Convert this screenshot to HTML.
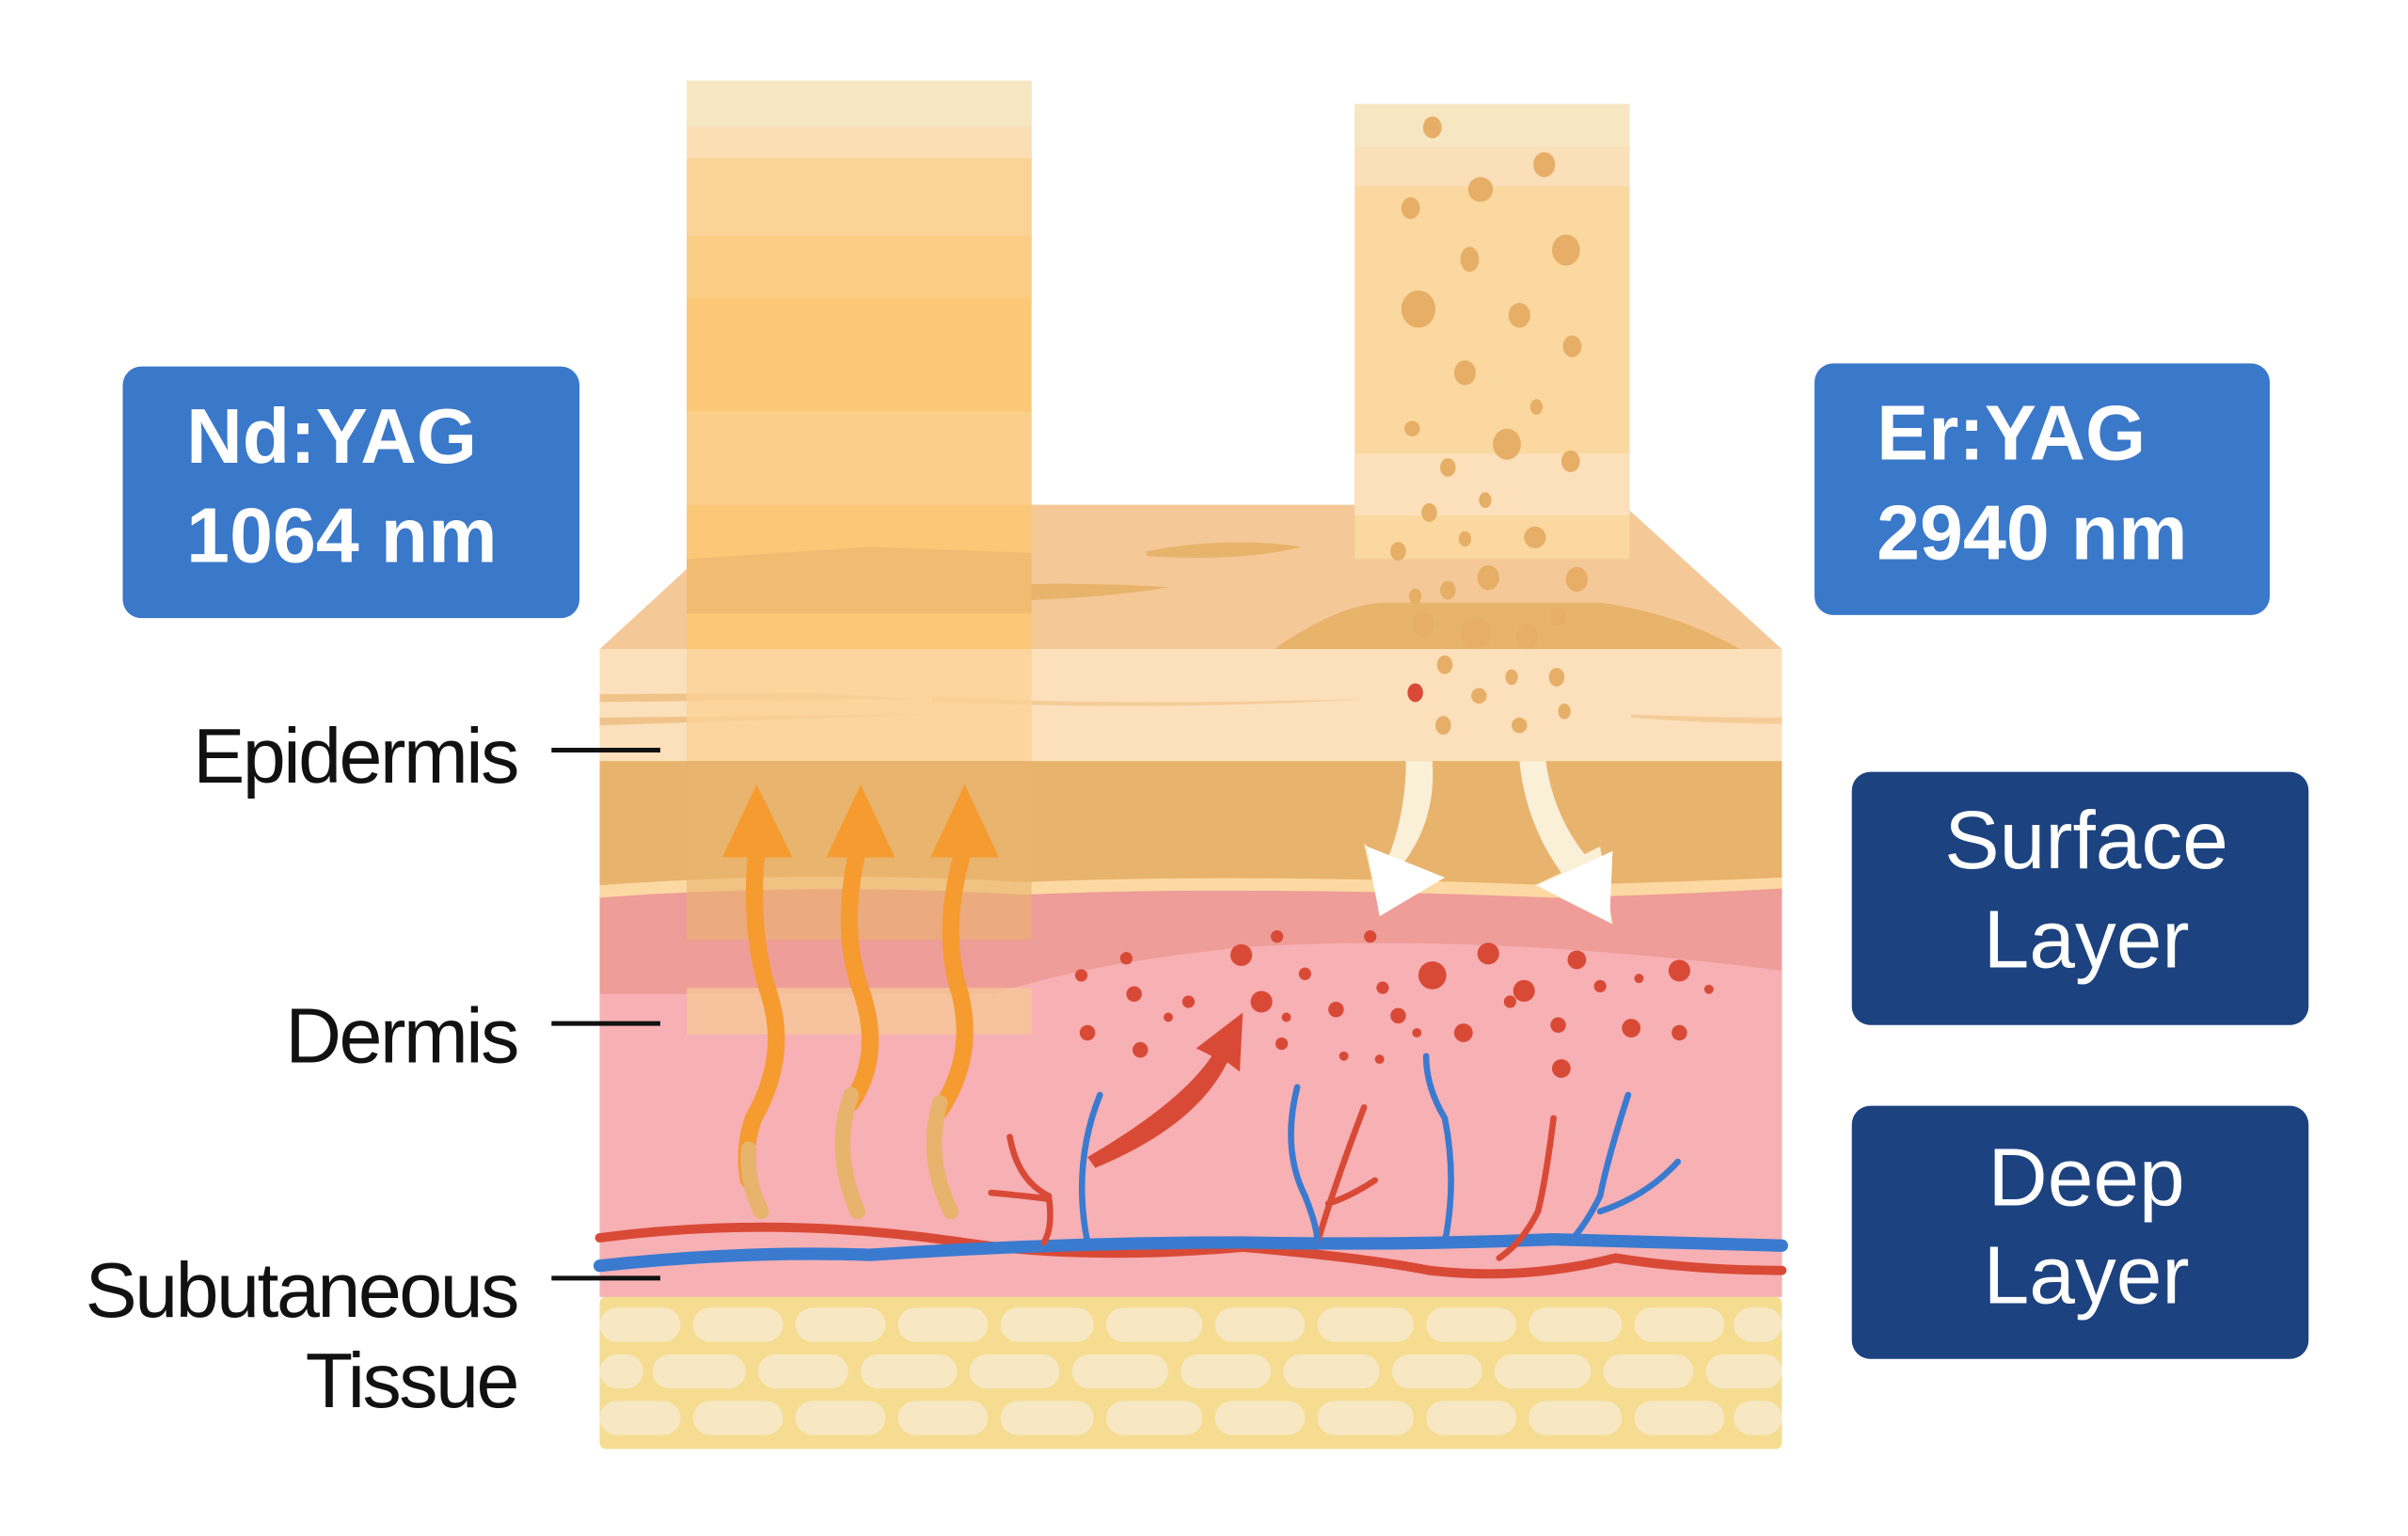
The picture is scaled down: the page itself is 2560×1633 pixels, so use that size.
<!DOCTYPE html>
<html><head><meta charset="utf-8"><style>
html,body{margin:0;padding:0;background:#fff;}
svg{display:block;}
text{font-family:"Liberation Sans",sans-serif;}
</style></head><body>
<svg width="2560" height="1633" viewBox="0 0 1550 989" preserveAspectRatio="none" xmlns="http://www.w3.org/2000/svg">
<rect width="1550" height="989" fill="#fff"/>
<polygon points="386,418 487,325 1045,325 1147,418" fill="#f5c897"/>
<path d="M575,383 Q650,372 752,378 Q700,388 575,388Z" fill="#e8b36b"/>
<path d="M738,355 Q790,345 838,352 Q800,362 738,358Z" fill="#e8b36b"/>
<path d="M820,418 Q860,390 890,388 L1030,388 Q1080,395 1120,418Z" fill="#e8b36b"/>
<rect x="386" y="418" width="761" height="72" fill="#fce0bb"/>
<path d="M386,447 L520,446 L590,450 L386,452Z" fill="#f0c38a"/>
<path d="M386,462 L600,460 L386,467Z" fill="#f0c38a"/>
<path d="M600,448 Q700,455 880,450 Q750,458 600,452Z" fill="#f5cc98"/>
<path d="M1050,460 Q1100,462 1147,462 L1147,466 Q1100,466 1050,462Z" fill="#f5cc98"/>
<rect x="386" y="490" width="761" height="90" fill="#e8b36c"/>
<path d="M386,570 Q520,560 660,568 Q800,562 1000,570 Q1080,568 1147,565 L1147,580 L386,580Z" fill="#fcd9a2"/>
<path d="M386,578 Q520,568 660,576 Q800,570 1000,578 Q1080,576 1147,572 L1147,835 L386,835Z" fill="#ee9d98"/>
<path d="M386,640 L1147,640 L1147,835 L386,835Z" fill="#f7b0b4"/>
<path d="M640,640 Q700,620 800,610 Q950,600 1147,625 L1147,660 L640,660Z" fill="#f7b0b4"/>
<!-- left column -->
<rect x="442" y="52" width="222" height="366" fill="#fcc878"/>
<rect x="442" y="52" width="222" height="30" fill="#f7e6c2"/>
<rect x="442" y="82" width="222" height="20" fill="#fbdeb4"/>
<rect x="442" y="102" width="222" height="50" fill="#fbd396"/>
<rect x="442" y="152" width="222" height="40" fill="#fbcd84"/>
<rect x="442" y="265" width="222" height="60" fill="#fbcf89"/>
<rect x="442" y="325" width="222" height="93" fill="#fbc878" opacity="0.55"/>
<path d="M442,360 L560,352 L664,356 L664,395 L442,395Z" fill="#e8b36b" opacity="0.55"/>
<rect x="442" y="418" width="222" height="72" fill="#fbd196" opacity="0.8"/>
<rect x="442" y="490" width="222" height="115" fill="#e9b46e" opacity="0.6"/>
<rect x="442" y="636" width="222" height="30" fill="#f5c898" opacity="0.8"/>
<!-- right column -->
<rect x="872" y="67" width="177" height="293" fill="#fbd89f"/>
<rect x="872" y="67" width="177" height="28" fill="#f7e6c2"/>
<rect x="872" y="95" width="177" height="25" fill="#fbdfb8"/>
<rect x="872" y="292" width="177" height="40" fill="#fce0bb"/>
<g fill="#e6ae66">
<ellipse cx="922" cy="82" rx="6" ry="7"/><ellipse cx="994" cy="106" rx="7" ry="8"/><ellipse cx="953" cy="122" rx="8" ry="8"/><ellipse cx="908" cy="134" rx="6" ry="7"/><ellipse cx="1008" cy="161" rx="9" ry="10"/><ellipse cx="946" cy="167" rx="6" ry="8"/><ellipse cx="913" cy="199" rx="11" ry="12"/><ellipse cx="978" cy="203" rx="7" ry="8"/><ellipse cx="1012" cy="223" rx="6" ry="7"/><ellipse cx="943" cy="240" rx="7" ry="8"/><ellipse cx="989" cy="262" rx="4" ry="5"/><ellipse cx="909" cy="276" rx="5" ry="5"/><ellipse cx="970" cy="286" rx="9" ry="10"/><ellipse cx="932" cy="301" rx="5" ry="6"/><ellipse cx="1011" cy="297" rx="6" ry="7"/><ellipse cx="920" cy="330" rx="5" ry="6"/><ellipse cx="956" cy="322" rx="4" ry="5"/><ellipse cx="988" cy="346" rx="7" ry="7"/><ellipse cx="900" cy="355" rx="5" ry="6"/><ellipse cx="943" cy="347" rx="4" ry="5"/><ellipse cx="911" cy="384" rx="4" ry="5"/><ellipse cx="932" cy="380" rx="5" ry="6"/><ellipse cx="958" cy="372" rx="7" ry="8"/><ellipse cx="1015" cy="373" rx="7" ry="8"/><ellipse cx="950" cy="408" rx="10" ry="10"/><ellipse cx="916" cy="402" rx="7" ry="8"/><ellipse cx="983" cy="410" rx="7" ry="8"/><ellipse cx="1003" cy="397" rx="5" ry="6"/><ellipse cx="930" cy="428" rx="5" ry="6"/><ellipse cx="973" cy="436" rx="4" ry="5"/><ellipse cx="1002" cy="436" rx="5" ry="6"/><ellipse cx="952" cy="448" rx="5" ry="5"/><ellipse cx="929" cy="467" rx="5" ry="6"/><ellipse cx="978" cy="467" rx="5" ry="5"/><ellipse cx="1007" cy="458" rx="4" ry="5"/>
</g>
<ellipse cx="911" cy="446" rx="5" ry="6" fill="#d94a36"/>
<path d="M905,490 L922,490 Q925,530 900,560 L930,565 L888,588 L878,543 L892,556 Q905,525 905,490Z" fill="#faf0d8"/>
<path d="M978,490 L995,490 Q1000,525 1020,550 L1030,545 L1038,595 L988,570 L1005,562 Q982,530 978,490Z" fill="#faf0d8"/>
<path d="M880,545 L930,565 L888,590Z" fill="#fff"/><path d="M990,570 L1038,548 L1036,594Z" fill="#fff"/>
<g fill="#d94a36">
<circle cx="696" cy="628" r="4"/><circle cx="725" cy="617" r="4"/><circle cx="730" cy="640" r="5"/><circle cx="799" cy="615" r="7"/><circle cx="822" cy="603" r="4"/><circle cx="882" cy="603" r="4"/><circle cx="812" cy="645" r="7"/><circle cx="840" cy="627" r="4"/><circle cx="922" cy="628" r="9"/><circle cx="958" cy="614" r="7"/><circle cx="981" cy="638" r="7"/><circle cx="1015" cy="618" r="6"/><circle cx="1081" cy="625" r="7"/><circle cx="700" cy="665" r="5"/><circle cx="734" cy="676" r="5"/><circle cx="765" cy="645" r="4"/><circle cx="860" cy="650" r="5"/><circle cx="900" cy="654" r="5"/><circle cx="942" cy="665" r="6"/><circle cx="1003" cy="660" r="5"/><circle cx="1050" cy="662" r="6"/><circle cx="1081" cy="665" r="5"/><circle cx="825" cy="672" r="4"/><circle cx="865" cy="680" r="3"/><circle cx="1005" cy="688" r="6"/><circle cx="1030" cy="635" r="4"/><circle cx="1055" cy="630" r="3"/><circle cx="1100" cy="637" r="3"/><circle cx="890" cy="636" r="4"/><circle cx="752" cy="655" r="3"/><circle cx="912" cy="665" r="3"/><circle cx="972" cy="645" r="4"/><circle cx="888" cy="682" r="3"/><circle cx="828" cy="655" r="3"/>
</g>
<path d="M700,745 Q760,710 780,680 L770,675 L800,652 L798,690 L790,684 Q770,725 705,752Z" fill="#d94a36"/>
<g fill="none" stroke="#f59b30" stroke-width="11" stroke-linecap="round">
<path d="M487,548 Q482,600 495,640 Q508,680 485,720 Q478,740 482,760"/>
<path d="M552,548 Q540,600 555,640 Q568,680 548,710"/>
<path d="M620,548 Q605,600 618,640 Q628,680 605,715"/>
</g>
<g fill="none" stroke="#e8b36c" stroke-width="10" stroke-linecap="round">
<path d="M482,740 Q480,760 490,780"/><path d="M548,705 Q535,740 552,780"/><path d="M605,710 Q595,745 612,780"/>
</g>
<g fill="#f59b30">
<polygon points="487,505 465,552 510,552"/><polygon points="554,505 532,552 576,552"/><polygon points="621,505 599,552 643,552"/>
</g>
<g fill="none" stroke-linecap="round">
<path d="M386,797 Q500,782 620,800 Q700,812 800,803 Q880,810 920,818 Q980,825 1040,810 Q1090,818 1147,818" stroke="#d94a36" stroke-width="6"/>
<path d="M386,815 Q480,805 560,808 Q680,800 800,800 Q900,802 1000,798 Q1080,800 1147,802" stroke="#3a7bd0" stroke-width="8"/>
<g stroke="#d94a36" stroke-width="4">
<path d="M650,732 Q655,760 675,770 Q678,790 672,800"/><path d="M638,768 Q660,770 675,772"/>
<path d="M878,713 Q860,760 848,800"/><path d="M855,775 Q870,770 885,760"/>
<path d="M1000,720 Q995,760 990,780 Q980,800 965,810"/>
</g>
<g stroke="#3a7bd0" stroke-width="4">
<path d="M708,705 Q690,750 700,800"/>
<path d="M835,700 Q825,740 840,770 Q848,790 848,800"/>
<path d="M918,680 Q918,700 930,720 Q938,760 930,800"/>
<path d="M1048,705 Q1035,745 1030,770 Q1020,790 1010,800"/><path d="M1030,780 Q1060,770 1080,748"/>
</g>
</g>
<rect x="386" y="835" width="761" height="98" rx="4" fill="#f5dc90"/>
<g fill="#f7e8c3">
<rect x="386" y="842" width="52" height="22" rx="11"/><rect x="446" y="842" width="58" height="22" rx="11"/><rect x="512" y="842" width="58" height="22" rx="11"/><rect x="578" y="842" width="58" height="22" rx="11"/><rect x="644" y="842" width="60" height="22" rx="11"/><rect x="712" y="842" width="62" height="22" rx="11"/><rect x="782" y="842" width="58" height="22" rx="11"/><rect x="848" y="842" width="62" height="22" rx="11"/><rect x="918" y="842" width="58" height="22" rx="11"/><rect x="984" y="842" width="60" height="22" rx="11"/><rect x="1052" y="842" width="58" height="22" rx="11"/><rect x="1116" y="842" width="31" height="22" rx="11"/>
<rect x="386" y="872" width="28" height="22" rx="11"/><rect x="420" y="872" width="60" height="22" rx="11"/><rect x="488" y="872" width="58" height="22" rx="11"/><rect x="554" y="872" width="62" height="22" rx="11"/><rect x="624" y="872" width="58" height="22" rx="11"/><rect x="690" y="872" width="62" height="22" rx="11"/><rect x="760" y="872" width="58" height="22" rx="11"/><rect x="826" y="872" width="62" height="22" rx="11"/><rect x="896" y="872" width="58" height="22" rx="11"/><rect x="962" y="872" width="62" height="22" rx="11"/><rect x="1032" y="872" width="58" height="22" rx="11"/><rect x="1098" y="872" width="49" height="22" rx="11"/>
<rect x="386" y="902" width="52" height="22" rx="11"/><rect x="446" y="902" width="58" height="22" rx="11"/><rect x="512" y="902" width="58" height="22" rx="11"/><rect x="578" y="902" width="58" height="22" rx="11"/><rect x="644" y="902" width="60" height="22" rx="11"/><rect x="712" y="902" width="62" height="22" rx="11"/><rect x="782" y="902" width="58" height="22" rx="11"/><rect x="848" y="902" width="62" height="22" rx="11"/><rect x="918" y="902" width="58" height="22" rx="11"/><rect x="984" y="902" width="60" height="22" rx="11"/><rect x="1052" y="902" width="58" height="22" rx="11"/><rect x="1116" y="902" width="31" height="22" rx="11"/>
</g>
<g stroke="#111" stroke-width="3"><line x1="355" y1="483" x2="425" y2="483"/><line x1="355" y1="659" x2="425" y2="659"/><line x1="355" y1="823" x2="425" y2="823"/></g>
<g fill="#111" font-size="50" text-anchor="end" letter-spacing="-1.5">
<text x="333" y="504">Epidermis</text><text x="333" y="684">Dermis</text><text x="333" y="848">Subutaneous</text><text x="333" y="906">Tissue</text>
</g>
<rect x="79" y="236" width="294" height="162" rx="12" fill="#3a78c9"/>
<rect x="1168" y="234" width="293" height="162" rx="12" fill="#3a78c9"/>
<rect x="1192" y="497" width="294" height="163" rx="12" fill="#1c427f"/>
<rect x="1192" y="712" width="294" height="163" rx="12" fill="#1c427f"/>
<g fill="#fff" font-size="50" font-weight="bold">
<text x="120" y="298">Nd:YAG</text><text x="120" y="362">1064 nm</text>
<text x="1208" y="296">Er:YAG</text><text x="1208" y="360">2940 nm</text>
</g>
<g fill="#fff" font-size="53" text-anchor="middle">
<text x="1343" y="559">Surface</text><text x="1343" y="623">Layer</text>
<text x="1343" y="776">Deep</text><text x="1343" y="839">Layer</text>
</g>
</svg>
</body></html>
